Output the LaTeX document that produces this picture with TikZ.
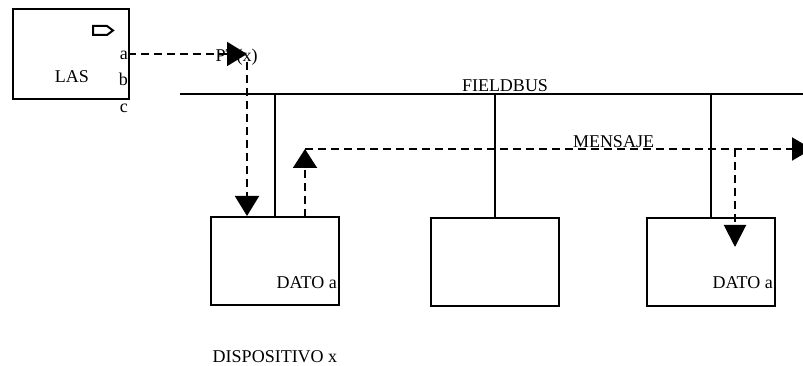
\documentclass[tikz,border=0pt]{standalone}
\usepackage{fontspec}
\setmainfont{Liberation Serif}
\usetikzlibrary{arrows.meta}
\begin{document}
\begin{tikzpicture}[x=1pt,y=-1pt,
  every node/.style={font=\fontsize{18}{20}\selectfont},
  boxstyle/.style={draw,line width=2pt,minimum width=128pt,minimum height=88pt,inner sep=0pt},
  lbl/.style={inner sep=0pt,anchor=base},
  wire/.style={line width=2pt},
  dwire/.style={line width=2pt,dash pattern=on 8pt off 5pt},
  bigtip/.style={-{Triangle[length=20pt,width=24pt]}}
]
\useasboundingbox (0,0) rectangle (803,366);
\clip (0,0) rectangle (803,366);
% LAS box
\node[draw,line width=2pt,minimum width=116pt,minimum height=90pt,inner sep=0pt] (las) at (71,54) {};
\node[lbl] (lastxt) at (72,83) {LAS};
\draw[line width=2pt,line join=miter] (93,26) -- (107,26) -- (113,30.5) -- (107,35) -- (93,35) -- cycle;
\node[lbl,anchor=base east] (la) at (128,60) {a};
\node[lbl,anchor=base east] (lb) at (128,86) {b};
\node[lbl,anchor=base east] (lc) at (128,113) {c};
% fieldbus
\coordinate (busL) at (180,94);
\coordinate (busR) at (803,94);
\draw[wire] (busL) -- (busR);
\node[lbl] (fb) at (505,92) {FIELDBUS};
% devices
\node[boxstyle] (b1) at (275,261) {};
\node[boxstyle] (b2) at (495,262) {};
\node[boxstyle] (b3) at (711,262) {};
\draw[wire] (b1.north) -- (b1.north |- busL);
\draw[wire] (b2.north) -- (b2.north |- busL);
\draw[wire] (b3.north) -- (b3.north |- busL);
\node[lbl,anchor=base east] (d1) at (337,288) {DATO a};
\node[lbl,anchor=base east] (d3) at (773,288) {DATO a};
\node[lbl] (disp) at (275,362) {DISPOSITIVO x};
% PT(x) token
\coordinate (astart) at (128,54);
\coordinate (pt) at (247,54);
\coordinate (ptdown) at (247,62);
\node[lbl] (ptx) at (236.5,62) {PT(x)};
\draw[dwire,bigtip] (astart) -- (pt);
\draw[dwire,bigtip] (ptdown) -- (ptdown |- b1.north);
% message
\coordinate (up0) at (305,217);
\coordinate (m) at (305,149);
\coordinate (mend) at (812,149);
\coordinate (br) at (735,149);
\coordinate (tip3) at (735,247);
\draw[dwire,-{Triangle[length=19pt,width=24pt]}] (up0) -- (m);
\draw[dwire,-{Triangle[length=20pt,width=23pt]}] (m) -- (mend);
\draw[dwire,-{Triangle[length=22pt,width=22pt]}] (br) -- (tip3);
\node[lbl] (msg) at (613.5,148) {MENSAJE};
\end{tikzpicture}
\end{document}
